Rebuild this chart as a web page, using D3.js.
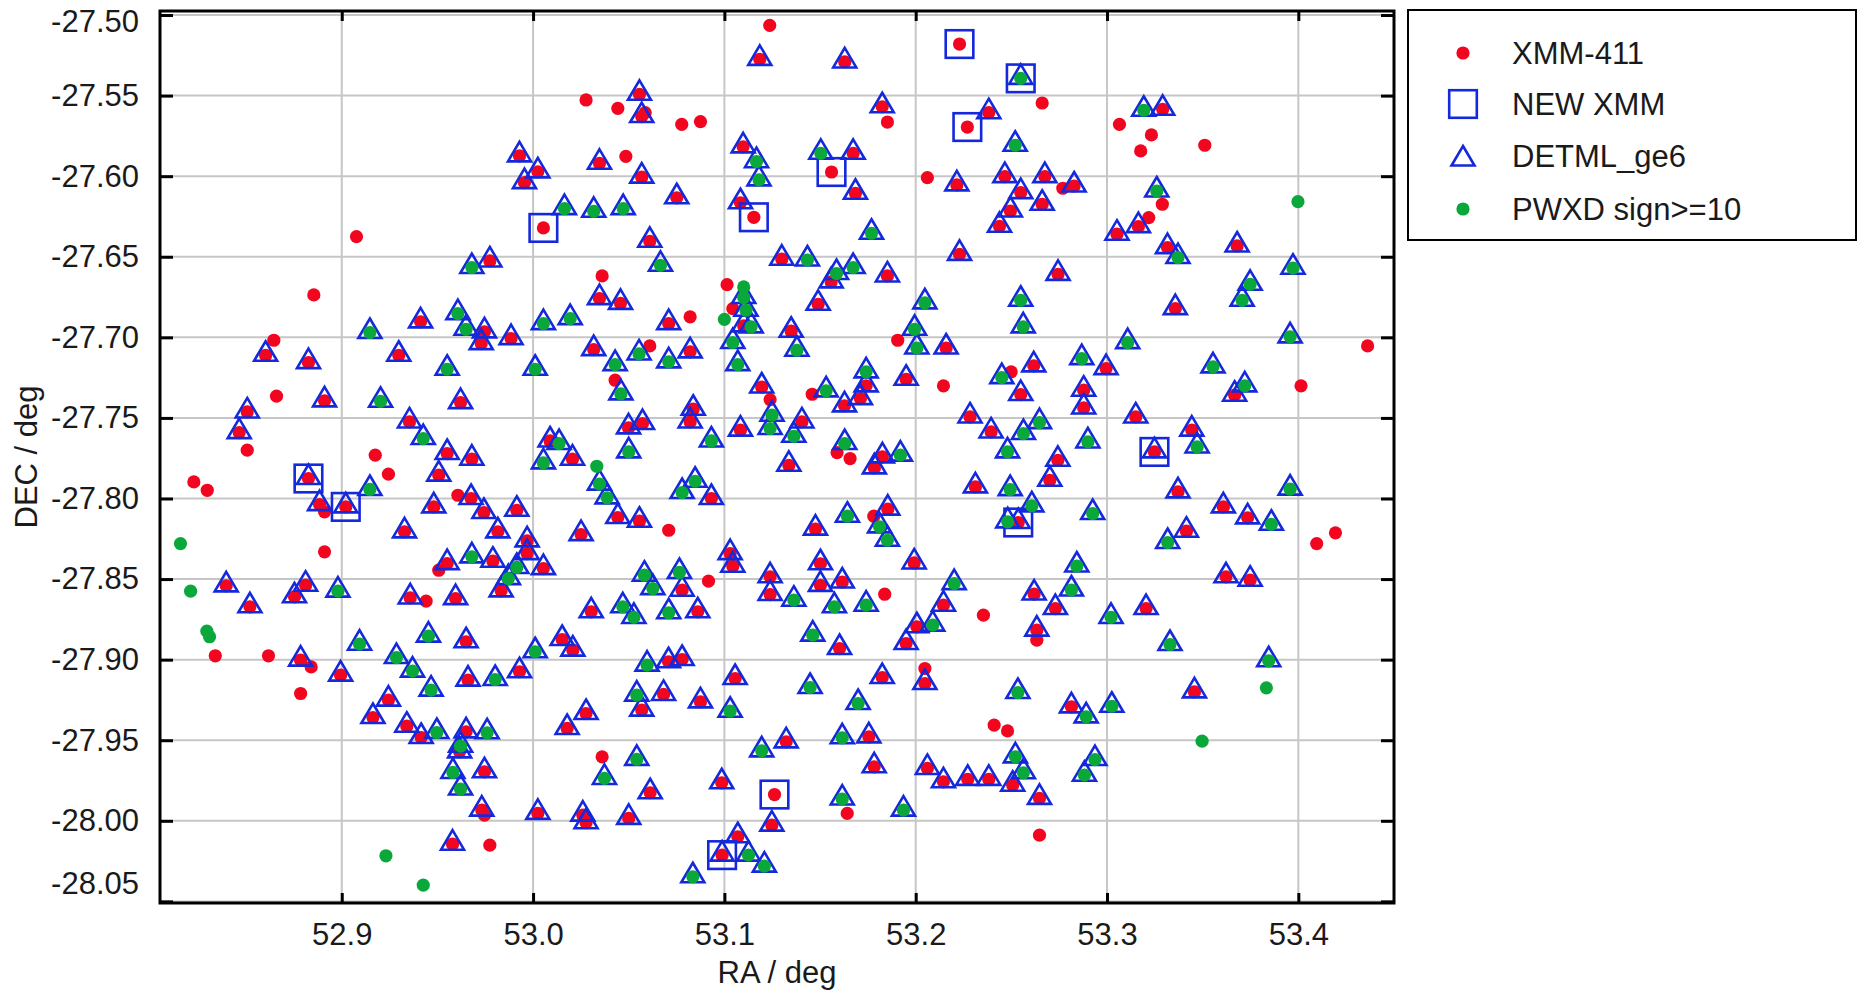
<!DOCTYPE html>
<html>
<head>
<meta charset="utf-8">
<script src="https://cdn.jsdelivr.net/npm/d3@7"></script>
<style>
  body { margin: 0; background: #fff; }
  svg text { font-family: "Liberation Sans", Arial, sans-serif; fill: #1a1a1a; }
</style>
</head>
<body>
<svg id="chart"></svg>
<script>
// [RA, DEC] in degrees, grouped by which catalogues share the source
const xmmOnly = [
  [52.9077,-27.6375],[52.8854,-27.6737],
  [53.1237,-27.5064],[53.0277,-27.5527],[53.0443,-27.5579],[53.0586,-27.5606],[53.0777,-27.5678],[53.0875,-27.5661],[53.0485,-27.5877],[53.0361,-27.6619],[53.1014,-27.6673],
  [53.1852,-27.5664],[53.2661,-27.5546],[53.2061,-27.6009],[53.2769,-27.6075],
  [53.3065,-27.5678],[53.3232,-27.5744],[53.3176,-27.5843],[53.3511,-27.5808],[53.3289,-27.6174],[53.3218,-27.6257],
  [52.8645,-27.7018],[52.8659,-27.7365],[52.8506,-27.7700],[52.9175,-27.7731],[52.9244,-27.7849],[52.8227,-27.7897],[52.8297,-27.7949],[52.8910,-27.8083],[52.9607,-27.7980],[52.8910,-27.8331],[52.9507,-27.8445],[52.9441,-27.8637],
  [53.0821,-27.6873],[53.1044,-27.6822],[53.0610,-27.7053],[53.0429,-27.7266],[53.1239,-27.7386],[53.0709,-27.8197],[53.0917,-27.8513],
  [53.1906,-27.7018],[53.2145,-27.7301],[53.1459,-27.7353],[53.2499,-27.7214],[53.1589,-27.7715],[53.1657,-27.7752],[53.1781,-27.8110],[53.1838,-27.8594],
  [53.4362,-27.7053],[53.4014,-27.7301],[53.4096,-27.8280],[53.4194,-27.8213],
  [52.8339,-27.8976],[52.8617,-27.8976],[52.8840,-27.9045],[52.8785,-27.9210],
  [53.0361,-27.9603],[52.9746,-27.9965],[52.9774,-28.0151],
  [53.2354,-27.8724],[53.2633,-27.8879],[53.2048,-27.9055],[53.2410,-27.9406],[53.2480,-27.9442],[53.1642,-27.9954],[53.2647,-28.0089]
];

const pwxdOnly = [
  [53.1101,-27.6687],[53.3998,-27.6158],[52.8157,-27.8280],[52.8210,-27.8575],[53.1000,-27.6888],[53.0333,-27.7800],
  [52.8295,-27.8823],[52.8309,-27.8858],[52.9231,-28.0217],[52.9426,-28.0399],[53.3833,-27.9175],[53.3497,-27.9506]
];

const detmlXmm = [
  [53.1185,-27.5275],[53.0556,-27.5492],[53.0568,-27.5630],[52.9929,-27.5874],[53.0025,-27.5973],[52.9955,-27.6040],[53.0347,-27.5920],[53.0568,-27.6006],[53.0751,-27.6134],[53.1098,-27.5818],[53.1084,-27.6165],[53.0610,-27.6404],[52.9774,-27.6526],[53.0347,-27.6760],[53.0457,-27.6789],
  [53.1629,-27.5291],[53.1825,-27.5569],[53.2382,-27.5606],[53.1673,-27.5858],[53.1685,-27.6106],[53.2215,-27.6054],[53.2466,-27.6003],[53.2675,-27.6003],[53.2828,-27.6061],[53.2549,-27.6102],[53.2495,-27.6216],[53.2661,-27.6174],[53.2438,-27.6311],[53.2229,-27.6485],[53.1300,-27.6515],[53.1558,-27.6656],[53.1852,-27.6619],[53.1490,-27.6795],[53.2744,-27.6609],
  [53.3291,-27.5585],[53.3164,-27.6313],[53.3052,-27.6360],[53.3316,-27.6443],[53.3680,-27.6433],[53.3357,-27.6822],
  [52.9412,-27.6904],[52.8602,-27.7111],[52.8826,-27.7157],[52.9298,-27.7111],[52.8910,-27.7394],[52.9621,-27.7405],[52.8506,-27.7463],[52.8464,-27.7591],[52.9354,-27.7525],[52.9551,-27.7721],[52.9507,-27.7855],[52.8884,-27.8038],[52.9481,-27.8052],[52.9328,-27.8207],[52.9551,-27.8404],[52.8396,-27.8542],[52.8811,-27.8538],[52.8753,-27.8610],[52.9358,-27.8617],[52.9595,-27.8621],
  [52.9746,-27.6966],[52.9729,-27.7039],[52.9885,-27.7008],[53.0709,-27.6915],[53.1101,-27.6929],[53.0317,-27.7076],[53.0821,-27.7090],[53.1195,-27.7308],[53.0837,-27.7446],[53.0821,-27.7525],[53.0499,-27.7562],[53.0572,-27.7535],[53.1084,-27.7576],[53.0089,-27.7643],[53.0206,-27.7756],[52.9680,-27.7756],[53.0443,-27.8118],[53.0556,-27.8141],[53.0932,-27.8000],[52.9676,-27.8000],[52.9743,-27.8087],[52.9915,-27.8073],[52.9816,-27.8207],[53.0251,-27.8224],[52.9969,-27.8263],[52.9969,-27.8342],[52.9790,-27.8389],[53.0054,-27.8435],[52.9833,-27.8573],[53.1030,-27.8342],[53.1044,-27.8420],[53.0779,-27.8569],[53.1239,-27.8486],[53.1239,-27.8596],
  [53.1349,-27.6962],[53.2159,-27.7066],[53.1950,-27.7260],[53.1741,-27.7301],[53.1711,-27.7380],[53.1628,-27.7425],[53.2617,-27.7177],[53.2549,-27.7355],[53.2878,-27.7328],[53.2878,-27.7438],[53.1405,-27.7525],[53.2284,-27.7494],[53.2394,-27.7587],[53.2743,-27.7763],[53.2701,-27.7887],[53.1826,-27.7742],[53.1784,-27.7810],[53.1337,-27.7794],[53.2312,-27.7928],[53.1854,-27.8066],[53.1476,-27.8190],[53.1502,-27.8405],[53.1502,-27.8539],[53.1616,-27.8518],[53.1992,-27.8400],[53.2619,-27.8593],
  [53.2995,-27.7194],[53.3667,-27.7359],[53.3150,-27.7494],[53.3443,-27.7576],[53.3371,-27.7959],[53.3608,-27.8052],[53.3735,-27.8120],[53.3415,-27.8203],[53.3622,-27.8486],[53.3748,-27.8507],
  [52.8520,-27.8672],[52.8785,-27.9003],[52.8994,-27.9096],[52.9650,-27.8889],[52.9660,-27.9127],[52.9244,-27.9251],[52.9163,-27.9359],[52.9340,-27.9413],[52.9415,-27.9483],[52.9650,-27.9448],[52.9616,-27.9572],[52.9579,-28.0145],
  [53.0304,-27.8703],[53.0861,-27.8703],[53.0152,-27.8875],[53.0208,-27.8941],[52.9929,-27.9075],[53.0708,-27.9013],[53.0779,-27.8999],[53.1056,-27.9117],[53.0682,-27.9216],[53.0568,-27.9313],[53.0875,-27.9262],[53.0277,-27.9334],[53.0178,-27.9427],[53.0612,-27.9826],[52.9746,-27.9696],[53.0986,-27.9764],[52.9732,-27.9934],[53.0025,-27.9954],[53.0260,-27.9965],[53.0277,-28.0012],[53.0500,-27.9985],[53.1248,-28.0027],[53.1070,-28.0099],
  [53.2145,-27.8662],[53.2730,-27.8683],[53.1602,-27.8931],[53.2006,-27.8796],[53.1950,-27.8900],[53.2633,-27.8817],[53.2048,-27.9148],[53.1825,-27.9111],[53.2814,-27.9293],[53.1323,-27.9510],[53.1755,-27.9479],[53.1783,-27.9665],[53.2061,-27.9675],[53.2145,-27.9758],[53.2272,-27.9743],[53.2382,-27.9743],[53.2507,-27.9779],[53.2647,-27.9861],
  [53.3204,-27.8683],[53.3457,-27.9200]
];

const detmlPwxd = [
  [53.1168,-27.5910],[53.1181,-27.6023],[53.0164,-27.6201],[53.0317,-27.6218],[53.0471,-27.6201],[53.0666,-27.6553],[52.9680,-27.6567],[53.1101,-27.6753],
  [53.2520,-27.5808],[53.1504,-27.5858],[53.1769,-27.6354],[53.1434,-27.6520],[53.1586,-27.6604],[53.1673,-27.6567],[53.2048,-27.6786],[53.2549,-27.6770],
  [53.3192,-27.5591],[53.3260,-27.6092],[53.3371,-27.6505],[53.3972,-27.6571],[53.3748,-27.6671],[53.3706,-27.6770],
  [52.9147,-27.6970],[52.9607,-27.6853],[52.9650,-27.6950],[52.9551,-27.7198],[52.9203,-27.7397],[52.9426,-27.7628],[52.9147,-27.7944],[52.8980,-27.8575],
  [53.0054,-27.6915],[53.0194,-27.6884],[53.0011,-27.7198],[53.1113,-27.6832],[53.1140,-27.6935],[53.1044,-27.7032],[53.1070,-27.7169],[53.0429,-27.7169],[53.0554,-27.7103],[53.0709,-27.7152],[53.0459,-27.7351],[53.1249,-27.7483],[53.1239,-27.7566],[53.0500,-27.7711],[53.0932,-27.7643],[53.0136,-27.7659],[53.0054,-27.7779],[53.0347,-27.7911],[53.0387,-27.7996],[53.0779,-27.7963],[53.0847,-27.7893],[52.9680,-27.8362],[52.9915,-27.8428],[52.9871,-27.8497],[53.0582,-27.8476],[53.0626,-27.8559],[53.0765,-27.8459],
  [53.1379,-27.7080],[53.1994,-27.6950],[53.2006,-27.7066],[53.2562,-27.6935],[53.1741,-27.7214],[53.1532,-27.7332],[53.2450,-27.7250],[53.2868,-27.7132],[53.1363,-27.7614],[53.2563,-27.7597],[53.2647,-27.7529],[53.2480,-27.7711],[53.2900,-27.7649],[53.1629,-27.7659],[53.1920,-27.7731],[53.2494,-27.7945],[53.2607,-27.8046],[53.2481,-27.8145],[53.1643,-27.8110],[53.1811,-27.8176],[53.1852,-27.8259],[53.2201,-27.8528],[53.2842,-27.8419],[53.2814,-27.8568],
  [53.3108,-27.7033],[53.3957,-27.6997],[53.3554,-27.7183],[53.3720,-27.7301],[53.3471,-27.7680],[53.3957,-27.7942],[53.3859,-27.8160],[53.3317,-27.8273],[53.2925,-27.8093],
  [52.9093,-27.8904],[52.9453,-27.8854],[52.9286,-27.8987],[52.9370,-27.9071],[52.9467,-27.9189],[52.9497,-27.9452],[52.9621,-27.9537],[52.9581,-27.9700],[52.9621,-27.9803],
  [53.0469,-27.8672],[53.0527,-27.8738],[53.0709,-27.8709],[53.0011,-27.8951],[52.9802,-27.9123],[53.0596,-27.9034],[53.0542,-27.9220],[53.1030,-27.9320],[52.9760,-27.9454],[53.0542,-27.9619],[53.0373,-27.9737],[53.1195,-27.9566],[53.1126,-28.0213],[53.1209,-28.0281],[53.0835,-28.0347],
  [53.1363,-27.8631],[53.1575,-27.8672],[53.1741,-27.8662],[53.1462,-27.8848],[53.2089,-27.8786],[53.1448,-27.9173],[53.1699,-27.9272],[53.2534,-27.9204],[53.2891,-27.9355],[53.1616,-27.9485],[53.2521,-27.9603],[53.2563,-27.9702],[53.2882,-27.9717],[53.1616,-27.9865],[53.1936,-27.9934],
  [53.3021,-27.8738],[53.3329,-27.8906],[53.3845,-27.9007],[53.3025,-27.9289],[53.2937,-27.9620]
];

const newXmmRed = [[53.1154,-27.6255],[53.0054,-27.6321],[53.2229,-27.5180],[53.2270,-27.5695],[53.1560,-27.5974],[53.1262,-27.9837]];
const newXmmDetmlXmm = [[52.8826,-27.7876],[52.9021,-27.8052],[53.2536,-27.8149],[53.3248,-27.7711],[53.0988,-28.0213]];
const newXmmDetmlPwxd = [[53.2549,-27.5393]];

const xTicks = [52.9, 53.0, 53.1, 53.2, 53.3, 53.4];
const yTicks = [-27.50, -27.55, -27.60, -27.65, -27.70, -27.75, -27.80, -27.85, -27.90, -27.95, -28.00, -28.05];
const legendNames = ["XMM-411", "NEW XMM", "DETML_ge6", "PWXD sign>=10"];

const srcChart = (function () {
  const sc = {};

  const colors = { red: "#f2051f", green: "#0aa83a", blue: "#1428dc" };
  const triPath = "M0,-14L11.5,5.5L-11.5,5.5Z";

  sc.draw = function (svgId) {
    const svg = d3.select(`#${svgId}`)
      .attr("width", 1858)
      .attr("height", 990);

    const box = { left: 160, right: 1394, top: 11, bottom: 903 };

    const x = d3.scaleLinear().domain([52.805, 53.45]).range([box.left, box.right]);
    const y = d3.scaleLinear().domain([-27.4975, -28.051]).range([box.top, box.bottom]);

    // series as the plotting tool sees them
    const xmm411 = [...xmmOnly, ...detmlXmm, ...newXmmRed, ...newXmmDetmlXmm];
    const newXmm = [...newXmmRed, ...newXmmDetmlXmm, ...newXmmDetmlPwxd];
    const detml = [...detmlXmm, ...detmlPwxd, ...newXmmDetmlXmm, ...newXmmDetmlPwxd];
    const pwxd = [...pwxdOnly, ...detmlPwxd, ...newXmmDetmlPwxd];

    // grid
    const grid = svg.append("g").attr("stroke", "#c6c6c6").attr("stroke-width", 2);
    grid.selectAll(".gx").data(xTicks).join("line")
      .attr("x1", d => x(d)).attr("x2", d => x(d))
      .attr("y1", box.top).attr("y2", box.bottom);
    grid.selectAll(".gy").data(yTicks).join("line")
      .attr("x1", box.left).attr("x2", box.right)
      .attr("y1", d => y(d)).attr("y2", d => y(d));

    // axes, ticks pointing inward
    const styleAxis = g => {
      g.select(".domain").remove();
      g.selectAll("line").attr("stroke", "#000").attr("stroke-width", 3);
      g.attr("font-size", 31).attr("font-family", null);
    };

    svg.append("g")
      .attr("transform", `translate(0,${box.bottom})`)
      .call(d3.axisBottom(x).tickValues(xTicks).tickSizeInner(-10).tickSizeOuter(0)
        .tickPadding(20).tickFormat(d => d.toFixed(1)))
      .call(styleAxis);

    svg.append("g")
      .attr("transform", `translate(0,${box.top})`)
      .call(d3.axisTop(x).tickValues(xTicks).tickSizeInner(-10).tickSizeOuter(0).tickFormat(""))
      .call(styleAxis);

    const yAxisG = svg.append("g")
      .attr("transform", `translate(${box.left},0)`)
      .call(d3.axisLeft(y).tickValues(yTicks).tickSizeInner(-13).tickSizeOuter(0)
        .tickPadding(21).tickFormat(d => d.toFixed(2)))
      .call(styleAxis);

    // end labels are pulled inside the frame
    yAxisG.selectAll(".tick text")
      .attr("y", d => Math.max(22, Math.min(884, y(d))) - y(d));

    svg.append("g")
      .attr("transform", `translate(${box.right},0)`)
      .call(d3.axisRight(y).tickValues(yTicks).tickSizeInner(-13).tickSizeOuter(0).tickFormat(""))
      .call(styleAxis);

    // markers
    const marks = svg.append("g");

    marks.append("g").attr("fill", colors.red)
      .selectAll("circle").data(xmm411).join("circle")
      .attr("cx", d => x(d[0])).attr("cy", d => y(d[1])).attr("r", 6.6);

    marks.append("g").attr("fill", "none").attr("stroke", colors.blue).attr("stroke-width", 2.6)
      .selectAll("rect").data(newXmm).join("rect")
      .attr("x", d => x(d[0]) - 13.8).attr("y", d => y(d[1]) - 13.8)
      .attr("width", 27.6).attr("height", 27.6);

    marks.append("g").attr("fill", "none").attr("stroke", colors.blue).attr("stroke-width", 2.6)
      .attr("stroke-linejoin", "miter")
      .selectAll("path").data(detml).join("path")
      .attr("transform", d => `translate(${x(d[0])},${y(d[1])})`)
      .attr("d", triPath);

    marks.append("g").attr("fill", colors.green)
      .selectAll("circle").data(pwxd).join("circle")
      .attr("cx", d => x(d[0])).attr("cy", d => y(d[1])).attr("r", 6.6);

    // frame
    svg.append("rect")
      .attr("x", box.left).attr("y", box.top)
      .attr("width", box.right - box.left).attr("height", box.bottom - box.top)
      .attr("fill", "none").attr("stroke", "#000").attr("stroke-width", 3);

    // axis titles
    svg.append("text")
      .attr("x", (box.left + box.right) / 2).attr("y", 983)
      .attr("text-anchor", "middle").attr("font-size", 31)
      .text("RA / deg");

    svg.append("text")
      .attr("transform", `translate(37,${(box.top + box.bottom) / 2}) rotate(-90)`)
      .attr("text-anchor", "middle").attr("font-size", 31)
      .text("DEC / deg");

    // legend
    const lg = svg.append("g").attr("transform", "translate(1408,10)");
    lg.append("rect").attr("width", 448).attr("height", 230)
      .attr("fill", "#fff").attr("stroke", "#000").attr("stroke-width", 2);

    const rowY = [43, 94, 146, 199];
    const mx = 55;
    lg.append("circle").attr("cx", mx).attr("cy", rowY[0]).attr("r", 6.6).attr("fill", colors.red);
    lg.append("rect").attr("x", mx - 13.8).attr("y", rowY[1] - 13.8).attr("width", 27.6).attr("height", 27.6)
      .attr("fill", "none").attr("stroke", colors.blue).attr("stroke-width", 2.6);
    lg.append("path").attr("transform", `translate(${mx},${rowY[2] + 4})`).attr("d", triPath)
      .attr("fill", "none").attr("stroke", colors.blue).attr("stroke-width", 2.6);
    lg.append("circle").attr("cx", mx).attr("cy", rowY[3]).attr("r", 6.6).attr("fill", colors.green);

    lg.selectAll(".lt").data(legendNames).join("text")
      .attr("x", 104).attr("y", (d, i) => rowY[i])
      .attr("dy", "0.36em").attr("font-size", 31)
      .text(d => d);

    return svg;
  };

  return sc;
})();

srcChart.draw("chart");
</script>
</body>
</html>
